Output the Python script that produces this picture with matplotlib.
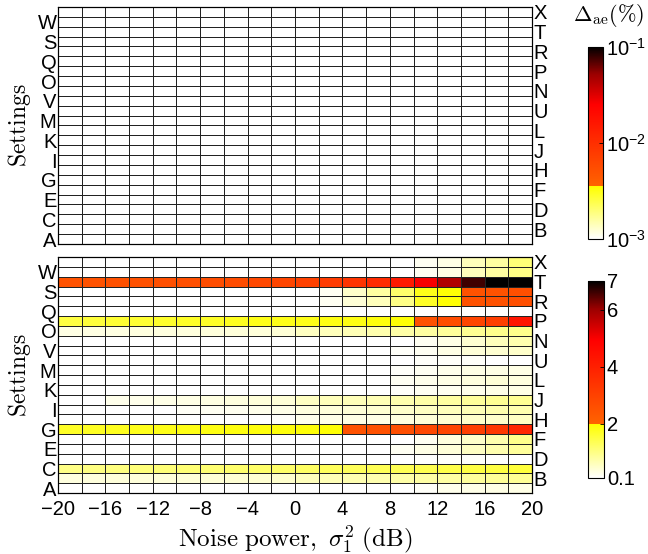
import numpy as np
import matplotlib
matplotlib.use('Agg')
import matplotlib.pyplot as plt
from matplotlib.colors import LinearSegmentedColormap, LogNorm, Normalize

plt.rcParams['font.family'] = ['Liberation Sans', 'DejaVu Sans']
plt.rcParams['mathtext.fontset'] = 'custom'
plt.rcParams['mathtext.rm'] = 'Liberation Sans'
plt.rcParams['mathtext.it'] = 'Liberation Sans:italic'

# noise power cell edges (dB)
noise_edges = np.arange(-20, 22, 2)
x_ticks = [-20, -16, -12, -8, -4, 0, 4, 8, 12, 16, 20]

# row labels, bottom to top
left_labels = ['A', 'C', 'E', 'G', 'I', 'K', 'M', 'V', 'O', 'Q', 'S', 'W']
right_labels = ['B', 'D', 'F', 'H', 'J', 'L', 'U', 'N', 'P', 'R', 'T', 'X']

# top panel: every cell is at the bottom of the scale (white)
top_vals = [[0.001] * 20 for _ in range(24)]

# bottom panel, one list per row (bottom to top), 20 noise levels each
row_A = [0.1]*15 + [0.15, 0.25, 0.28, 0.3, 0.3]
row_B = [0.35, 0.36, 0.37, 0.38, 0.39, 0.4, 0.42, 0.43, 0.45, 0.48,
         0.6, 0.65, 0.68, 0.7, 0.75, 0.78, 0.8, 0.85, 0.88, 0.9]
row_C = [1.0, 1.02, 1.05, 1.08, 1.1, 1.12, 1.15, 1.18, 1.2, 1.22,
         1.25, 1.3, 1.32, 1.35, 1.38, 1.4, 1.45, 1.5, 1.5, 1.55]
row_D = [0.1]*15 + [0.12, 0.15, 0.15, 0.12, 0.1]
row_E = [0.1]*14 + [0.2, 0.3, 0.4, 0.55, 0.7, 0.85]
row_F = [0.1]*15 + [0.2, 0.35, 0.5, 0.7, 0.95]
row_G = [1.7, 1.72, 1.75, 1.78, 1.8, 1.82, 1.85, 1.87, 1.88, 1.9,
         1.92, 1.95, 2.5, 2.55, 2.6, 2.8, 2.9, 3.1, 3.3, 3.8]
row_H = [0.1]*9 + [0.15, 0.25, 0.28, 0.3, 0.3, 0.35, 0.4, 0.45, 0.5, 0.5, 0.55]
row_I = [0.1]*5 + [0.18, 0.2, 0.22, 0.25, 0.28,
                   0.35, 0.38, 0.4, 0.45, 0.5, 0.55, 0.6, 0.65, 0.7, 0.7]
row_J = [0.1, 0.1, 0.25, 0.25, 0.28, 0.3, 0.32, 0.35, 0.38, 0.4,
         0.55, 0.6, 0.62, 0.65, 0.7, 0.75, 0.8, 0.85, 0.9, 0.9]
row_K = [0.1]*14 + [0.15, 0.2, 0.22, 0.25, 0.28, 0.3]
row_L = [0.1]*14 + [0.2, 0.25, 0.3, 0.35, 0.4, 0.35]
row_M = [0.1]*14 + [0.15, 0.2, 0.25, 0.3, 0.3, 0.3]
row_U = [0.1]*15 + [0.15, 0.15, 0.15, 0.1, 0.1]
row_V = [0.1]*14 + [0.15, 0.2, 0.3, 0.4, 0.45, 0.5]
row_N = [0.1]*15 + [0.2, 0.3, 0.45, 0.6, 0.7]
row_O = [0.3, 0.31, 0.32, 0.33, 0.34, 0.35, 0.36, 0.37, 0.38, 0.4,
         0.55, 0.6, 0.65, 0.7, 0.75, 0.8, 0.85, 0.9, 0.95, 0.95]
row_P = [1.5, 1.55, 1.6, 1.6, 1.65, 1.7, 1.7, 1.75, 1.8, 1.8,
         1.8, 1.85, 1.85, 1.9, 1.95, 2.5, 2.7, 2.9, 3.1, 4.3]
row_Q = [0.1]*20
row_R = [0.1]*11 + [0.2, 0.4, 0.6, 1.0, 1.7, 1.95, 2.5, 2.5, 2.6]
row_S = [0.1]*11 + [0.2, 0.5, 0.8, 1.2, 1.8, 1.95, 2.5, 2.5, 2.6]
row_T = [2.5, 2.5, 2.55, 2.55, 2.6, 2.6, 2.65, 2.7, 2.8, 2.9,
         3.0, 3.2, 3.4, 3.7, 4.2, 5.0, 5.8, 6.6, 7.0, 7.0]
row_W = [0.1]*15 + [0.2, 0.3, 0.6, 0.8, 1.0]
row_X = [0.1]*15 + [0.2, 0.3, 0.6, 0.8, 1.1]

bottom_vals = [row_A, row_B, row_C, row_D, row_E, row_F, row_G, row_H,
               row_I, row_J, row_K, row_L, row_M, row_U, row_V, row_N,
               row_O, row_P, row_Q, row_R, row_S, row_T, row_W, row_X]

brk = 0.272
cmap = LinearSegmentedColormap.from_list('wyr', [
    (0.0, '#ffffff'), (brk, '#ffff00'), (brk + 0.001, '#ff6400'),
    (0.70, '#ff0000'), (0.86, '#9a0000'), (1.0, '#000000')], N=512)


def draw_panel(ax, vals, norm, show_x):
	row_edges = np.arange(25)
	ax.pcolormesh(noise_edges, row_edges, np.array(vals), cmap=cmap, norm=norm,
	              edgecolor='#222222', linewidth=0.55)
	ax.set_xlim(-20, 20)
	ax.set_ylim(0, 24)
	ax.set_yticks(np.arange(0.5, 24, 2))
	ax.set_yticklabels(left_labels, fontsize=14.5)
	ax2 = ax.twinx()
	ax2.set_ylim(0, 24)
	ax2.set_yticks(np.arange(1.5, 24, 2))
	ax2.set_yticklabels(right_labels, fontsize=14.5)
	ax2.tick_params(length=0, pad=1)
	ax.tick_params(length=0, pad=1)
	ax.set_xticks(x_ticks)
	if show_x:
		ax.set_xticklabels([str(v).replace('-', '\u2212') for v in x_ticks], fontsize=14.5)
		ax.tick_params(axis='x', pad=5)
	else:
		ax.set_xticklabels([])
	ax.set_ylabel(r'$\mathrm{Settings}$', fontsize=17, math_fontfamily='cm', labelpad=3)
	for a in (ax, ax2):
		for s in a.spines.values():
			s.set_linewidth(0.8)
	return ax


fig = plt.figure(figsize=(6.48, 5.54), dpi=100)
ax_top = fig.add_axes([0.0895, 0.5596, 0.7315, 0.4278])
ax_bot = fig.add_axes([0.0895, 0.1101, 0.7315, 0.4260])
cax_top = fig.add_axes([0.9074, 0.5686, 0.0231, 0.3466])
cax_bot = fig.add_axes([0.9074, 0.1372, 0.0247, 0.3556])

top_norm = LogNorm(1e-3, 1e-1)
bot_norm = Normalize(0.1, 7)
draw_panel(ax_top, top_vals, top_norm, False)
draw_panel(ax_bot, bottom_vals, bot_norm, True)
ax_bot.set_xlabel(r'$\mathrm{Noise\ power,}\ \sigma_1^2\ \mathrm{(dB)}$',
                  fontsize=18, math_fontfamily='cm', labelpad=3)

cb1 = fig.colorbar(plt.cm.ScalarMappable(norm=top_norm, cmap=cmap), cax=cax_top)
cb1.set_ticks([1e-3, 1e-2, 1e-1])
cb1.set_ticklabels([r'$10^{-3}$', r'$10^{-2}$', r'$10^{-1}$'])
cb1.ax.minorticks_off()
cb2 = fig.colorbar(plt.cm.ScalarMappable(norm=bot_norm, cmap=cmap), cax=cax_bot)
cb2.set_ticks([0.1, 2, 4, 6, 7])
cb2.set_ticklabels(['0.1', '2', '4', '6', '7'])
for cb in (cb1, cb2):
	cb.ax.tick_params(labelsize=14.5, length=3, direction='in', width=0.6, pad=2)
	cb.outline.set_linewidth(0.8)

fig.text(0.94, 0.972, r'$\Delta_{\mathrm{ae}}(\%)$', fontsize=16, math_fontfamily='cm',
         ha='center', va='center')

fig.savefig('out.png', dpi=100)
